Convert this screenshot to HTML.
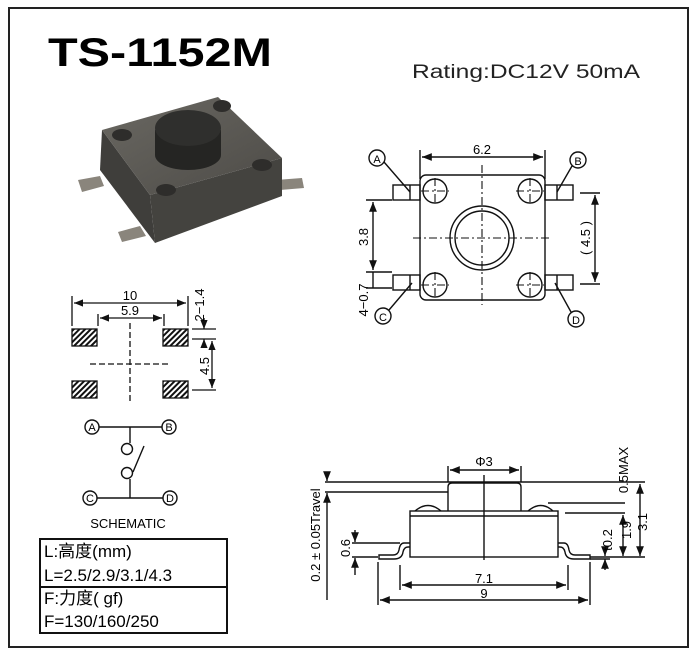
<!DOCTYPE html>
<html><head><meta charset="utf-8"><style>
html,body{margin:0;padding:0;background:#fff;}
svg{display:block;font-family:"Liberation Sans","Noto Sans CJK SC",sans-serif;}
</style></head><body>
<svg width="700" height="660" viewBox="0 0 700 660" xmlns="http://www.w3.org/2000/svg">
<defs>
<pattern id="h" width="4" height="4" patternUnits="userSpaceOnUse" patternTransform="rotate(45)">
<rect width="4" height="4" fill="#fff"/><rect width="2" height="4" fill="#111"/></pattern>
<marker id="a" viewBox="0 0 10 10" refX="10" refY="5" markerWidth="7" markerHeight="7" orient="auto-start-reverse"><path d="M0,1 L10,5 L0,9z" fill="#111"/></marker>
<linearGradient id="g1" x1="0" y1="0" x2="1" y2="1"><stop offset="0" stop-color="#6a6862"/><stop offset="1" stop-color="#4d4b47"/></linearGradient>
</defs>
<rect x="9" y="8" width="679" height="639" fill="none" stroke="#222" stroke-width="2"/>
<text x="48" y="66" font-size="40" font-weight="bold" textLength="224" lengthAdjust="spacingAndGlyphs">TS-1152M</text>
<text x="412" y="78" font-size="19" fill="#222" textLength="228" lengthAdjust="spacingAndGlyphs">Rating:DC12V 50mA</text>

<!-- photo -->
<g>
<path d="M78,180 L100,176 L104,186 L82,192z" fill="#8a857c"/>
<path d="M118,232 L140,226 L146,236 L122,242z" fill="#8a857c"/>
<path d="M276,180 L302,178 L304,188 L280,190z" fill="#8a857c"/>
<path d="M102,130 L150,195 L155,243 L100,170z" fill="#3f3e3b"/>
<path d="M150,195 L282,158 L282,196 L155,243z" fill="#44433f"/>
<path d="M102,130 L218,97 L282,158 L150,195z" fill="url(#g1)"/>
<ellipse cx="122" cy="135" rx="10" ry="6" fill="#2e2d2b"/>
<ellipse cx="222" cy="106" rx="9" ry="6" fill="#2e2d2b"/>
<ellipse cx="262" cy="165" rx="10" ry="6" fill="#2e2d2b"/>
<ellipse cx="166" cy="190" rx="10" ry="6" fill="#2e2d2b"/>
<path d="M155,130 L155,155 A33,15 0 0 0 221,155 L221,130z" fill="#252523"/>
<ellipse cx="188" cy="128" rx="33" ry="18" fill="#2f2f2d"/>
</g>

<!-- top view -->
<g fill="none" stroke="#111" stroke-width="1.4">
<rect x="420" y="175" width="125" height="125" rx="6"/>
<circle cx="482" cy="238" r="32"/><circle cx="482" cy="238" r="27"/>
<circle cx="435" cy="191" r="12"/><circle cx="530" cy="191" r="12"/>
<circle cx="435" cy="285" r="12"/><circle cx="530" cy="285" r="12"/>
<rect x="393" y="185" width="27" height="15"/><rect x="393" y="275" width="27" height="15"/>
<rect x="545" y="185" width="28" height="15"/><rect x="545" y="275" width="28" height="15"/>
<line x1="410" y1="185" x2="410" y2="200"/><line x1="410" y1="275" x2="410" y2="290"/>
<line x1="557" y1="185" x2="557" y2="200"/><line x1="557" y1="275" x2="557" y2="290"/>
<path d="M420,179 V150 M545,179 V150"/>
<line x1="422" y1="157" x2="543" y2="157" marker-start="url(#a)" marker-end="url(#a)"/>
<g stroke-dasharray="8,3,2,3" stroke-width="1.1">
<line x1="413" y1="238" x2="550" y2="238"/><line x1="482" y1="165" x2="482" y2="305"/>
<line x1="421" y1="191" x2="449" y2="191"/><line x1="435" y1="178" x2="435" y2="205"/>
<line x1="516" y1="191" x2="544" y2="191"/><line x1="530" y1="178" x2="530" y2="205"/>
<line x1="421" y1="285" x2="449" y2="285"/><line x1="435" y1="272" x2="435" y2="299"/>
<line x1="516" y1="285" x2="544" y2="285"/><line x1="530" y1="272" x2="530" y2="299"/>
</g>
<path d="M366,200 H392 M366,272 H392 M366,288 H392"/>
<line x1="373" y1="202" x2="373" y2="270" marker-start="url(#a)" marker-end="url(#a)"/>
<line x1="373" y1="272" x2="373" y2="288"/>
<path d="M580,193 H600 M580,284 H600"/>
<line x1="595" y1="195" x2="595" y2="282" marker-start="url(#a)" marker-end="url(#a)"/>
<circle cx="377" cy="158" r="8"/><circle cx="578" cy="160" r="8"/>
<circle cx="383" cy="316" r="8"/><circle cx="576" cy="319" r="8"/>
<path d="M384,162 L410,192 M572,166 L557,192 M389,310 L412,283 M571,312 L555,283"/>
</g>
<g font-size="13" text-anchor="middle">
<text x="482" y="154">6.2</text>
<text x="377" y="163" font-size="11">A</text><text x="578" y="165" font-size="11">B</text>
<text x="383" y="321" font-size="11">C</text><text x="576" y="324" font-size="11">D</text>
<text transform="translate(368,237) rotate(-90)">3.8</text>
<text transform="translate(368,300) rotate(-90)">4−0.7</text>
<text transform="translate(590,238) rotate(-90)">( 4.5 )</text>
</g>

<!-- footprint -->
<g fill="none" stroke="#111" stroke-width="1.3">
<rect x="72" y="329" width="25" height="17" fill="url(#h)"/>
<rect x="163" y="329" width="25" height="17" fill="url(#h)"/>
<rect x="72" y="381" width="25" height="17" fill="url(#h)"/>
<rect x="163" y="381" width="25" height="17" fill="url(#h)"/>
<g stroke-dasharray="6,3"><line x1="130" y1="323" x2="130" y2="402"/><line x1="90" y1="364" x2="170" y2="364"/></g>
<path d="M72,296 V326 M188,296 V326 M98,314 V326 M164,314 V326"/>
<line x1="74" y1="303" x2="186" y2="303" marker-start="url(#a)" marker-end="url(#a)"/>
<line x1="100" y1="318" x2="162" y2="318" marker-start="url(#a)" marker-end="url(#a)"/>
<path d="M192,329 H216 M192,339 H216 M192,390 H216"/>
<line x1="204" y1="318" x2="204" y2="329" marker-end="url(#a)"/>
<line x1="204" y1="346" x2="204" y2="339" marker-end="url(#a)"/>
<line x1="212" y1="341" x2="212" y2="388" marker-start="url(#a)" marker-end="url(#a)"/>
</g>
<g font-size="13" text-anchor="middle">
<text x="130" y="300">10</text><text x="130" y="315">5.9</text>
<text transform="translate(204,305) rotate(-90)">2−1.4</text>
<text transform="translate(209,366) rotate(-90)">4.5</text>
</g>

<!-- schematic -->
<g fill="none" stroke="#111" stroke-width="1.4">
<circle cx="92" cy="427" r="7"/><circle cx="169" cy="427" r="7"/>
<circle cx="90" cy="498" r="7"/><circle cx="170" cy="498" r="7"/>
<path d="M99,427 H162 M130,427 V443 M97,498 H163 M130,498 V479"/>
<circle cx="127" cy="449" r="5.5"/><circle cx="127" cy="473" r="5.5"/>
<path d="M144,446 L133,472"/>
</g>
<g font-size="11" text-anchor="middle">
<text x="92" y="431">A</text><text x="169" y="431">B</text><text x="90" y="502">C</text><text x="170" y="502">D</text>
</g>
<text x="128" y="528" font-size="13" text-anchor="middle">SCHEMATIC</text>

<!-- table -->
<rect x="40" y="539" width="187" height="94" fill="none" stroke="#111" stroke-width="2"/>
<line x1="40" y1="587" x2="227" y2="587" stroke="#111" stroke-width="2"/>
<g font-size="17">
<text x="44" y="557">L:高度(mm)</text>
<text x="44" y="581">L=2.5/2.9/3.1/4.3</text>
<text x="44" y="604">F:力度( gf)</text>
<text x="44" y="627">F=130/160/250</text>
</g>

<!-- side view -->
<g fill="none" stroke="#111" stroke-width="1.4">
<rect x="410" y="511" width="148" height="46"/>
<line x1="410" y1="516" x2="558" y2="516"/>
<path d="M448,511 V487 Q448,483 452,483 H517 Q521,483 521,487 V511"/>
<path d="M415,511 Q428,500 441,511 M528,511 Q541,500 553,511"/>
<path d="M410,543 H404 Q400,543 399,550 Q398,555 393,555 H379 V559 H394 Q402,559 403,552 Q404,547 408,547 H410"/>
<path d="M558,543 H564 Q568,543 569,550 Q570,555 575,555 H590 V559 H574 Q566,559 565,552 Q564,547 560,547 H558"/>
<line x1="484" y1="475" x2="484" y2="560"/>
<line x1="325" y1="482" x2="645" y2="482"/>
<line x1="325" y1="492" x2="448" y2="492"/>
<line x1="548" y1="503" x2="625" y2="503"/>
<line x1="565" y1="513" x2="625" y2="513"/>
<path d="M448,466 V482 M521,466 V482"/>
<line x1="450" y1="470" x2="519" y2="470" marker-start="url(#a)" marker-end="url(#a)"/>
<line x1="327" y1="474" x2="327" y2="481" marker-end="url(#a)"/>
<line x1="327" y1="600" x2="327" y2="493" marker-end="url(#a)"/>
<line x1="640" y1="484" x2="640" y2="556" marker-start="url(#a)" marker-end="url(#a)"/>
<line x1="623" y1="515" x2="623" y2="556" marker-start="url(#a)" marker-end="url(#a)"/>
<line x1="605" y1="548" x2="605" y2="556" marker-end="url(#a)"/>
<line x1="605" y1="570" x2="605" y2="559" marker-end="url(#a)"/>
<path d="M590,557 H645 M590,559 H610"/>
<path d="M352,543 H400 M352,557 H378"/>
<line x1="355" y1="530" x2="355" y2="542" marker-end="url(#a)"/>
<line x1="355" y1="575" x2="355" y2="558" marker-end="url(#a)"/>
<path d="M400,565 V590 M568,565 V590 M378,562 V605 M590,562 V605"/>
<line x1="402" y1="585" x2="566" y2="585" marker-start="url(#a)" marker-end="url(#a)"/>
<line x1="380" y1="600" x2="588" y2="600" marker-start="url(#a)" marker-end="url(#a)"/>
</g>
<g font-size="13" text-anchor="middle">
<text x="484" y="466">Φ3</text>
<text x="484" y="583">7.1</text>
<text x="484" y="598">9</text>
<text transform="translate(320,535) rotate(-90)">0.2 ± 0.05Travel</text>
<text transform="translate(628,470) rotate(-90)">0.5MAX</text>
<text transform="translate(647,522) rotate(-90)">3.1</text>
<text transform="translate(631,530) rotate(-90)">1.9</text>
<text transform="translate(612,540) rotate(-90)">t0.2</text>
<text transform="translate(350,548) rotate(-90)">0.6</text>
</g>
</svg>
</body></html>
